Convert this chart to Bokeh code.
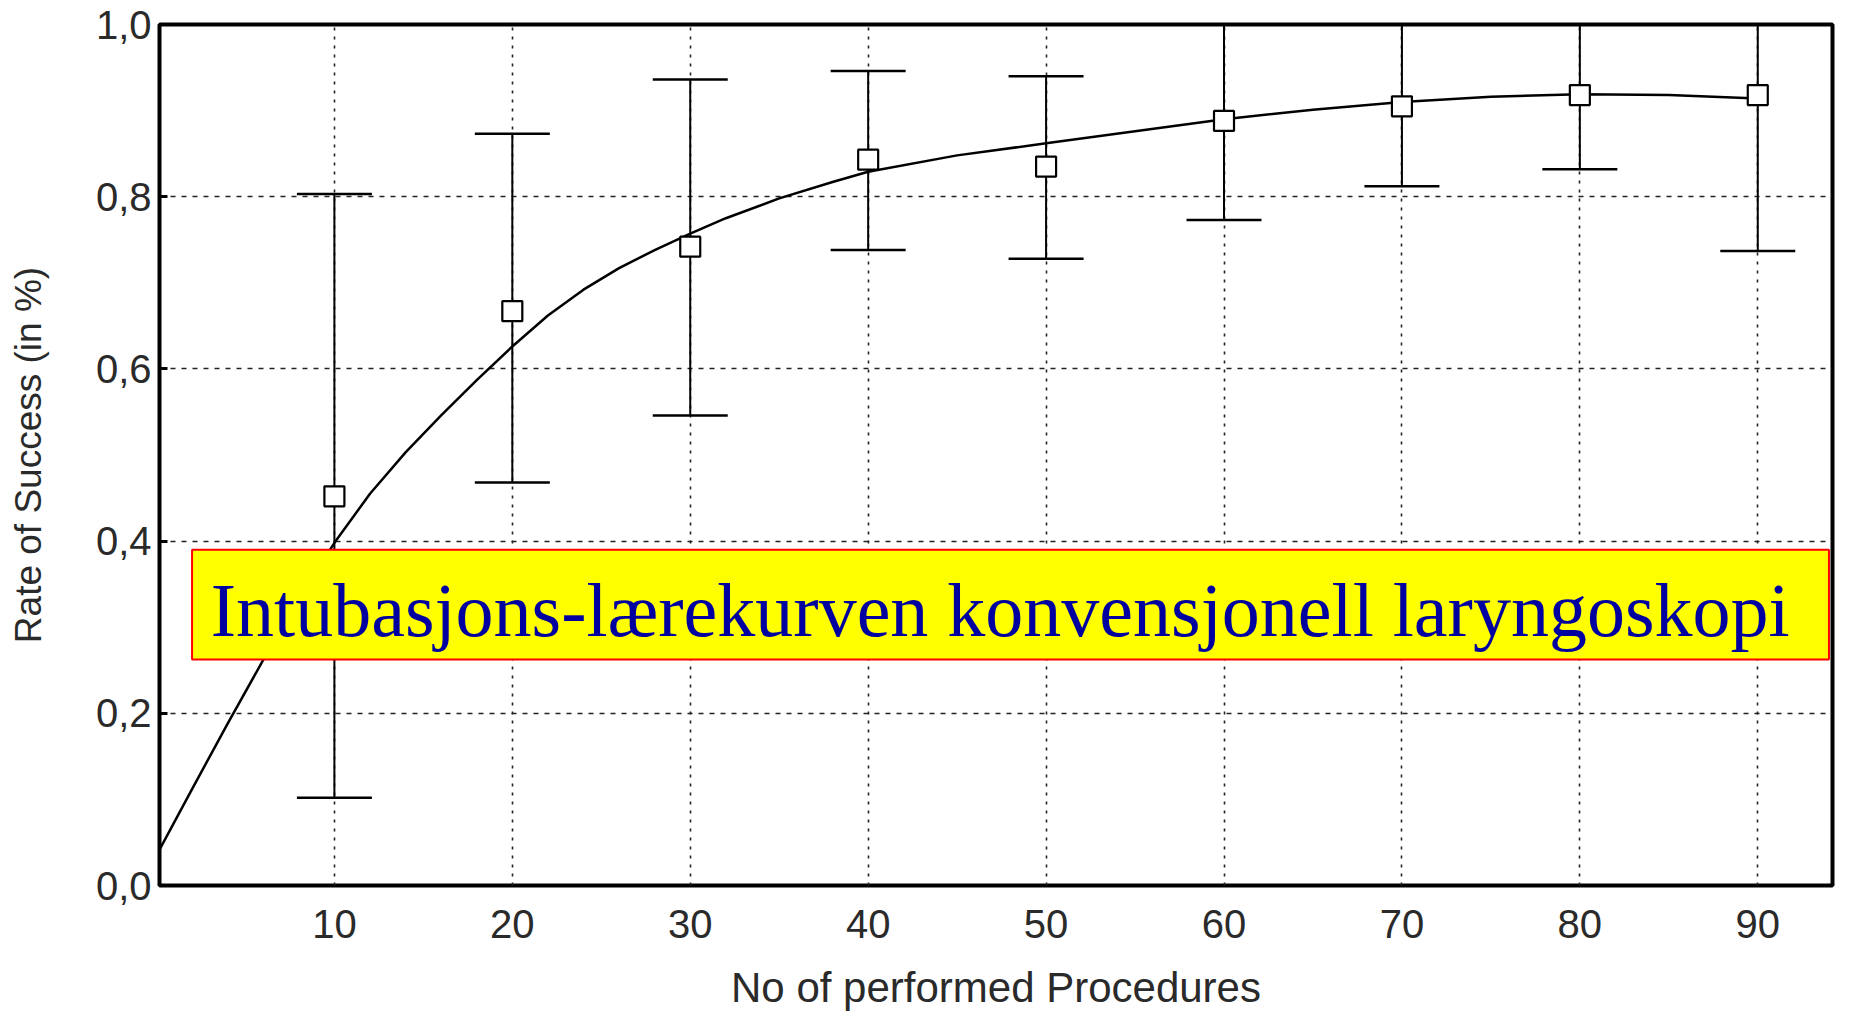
from bokeh.plotting import figure
from bokeh.models import (ColumnDataSource, Whisker, TeeHead, BoxAnnotation, Label,
                          FixedTicker, Range1d)
from bokeh.embed import file_html
from bokeh.resources import INLINE

# ---- data ----
procedures = [10, 20, 30, 40, 50, 60, 70, 80, 90]
success = [0.452, 0.667, 0.742, 0.843, 0.835, 0.888, 0.905, 0.918, 0.918]
upper = [0.803, 0.873, 0.936, 0.946, 0.940, 1.02, 1.01, 1.02, 1.05]
lower = [0.102, 0.468, 0.546, 0.738, 0.728, 0.773, 0.812, 0.832, 0.737]

curve_x = [0, 2, 4, 6, 8, 10, 12, 14, 16, 18, 20, 22, 24, 26, 28, 30, 32, 35, 38, 40,
           45, 50, 55, 60, 65, 70, 75, 80, 85, 90]
curve_y = [0.035, 0.112, 0.188, 0.262, 0.333, 0.398, 0.455, 0.503, 0.546, 0.587, 0.626,
           0.662, 0.692, 0.717, 0.738, 0.757, 0.775, 0.798, 0.817, 0.829,
           0.848, 0.862, 0.876, 0.890, 0.901, 0.910, 0.916, 0.919, 0.918, 0.914]

x_ticks = [10, 20, 30, 40, 50, 60, 70, 80, 90]
y_ticks = [0.0, 0.2, 0.4, 0.6, 0.8, 1.0]
y_tick_labels = ["0,0", "0,2", "0,4", "0,6", "0,8", "1,0"]

title_text = "Intubasjons-lærekurven konvensjonell laryngoskopi"
x_label = "No of performed Procedures"
y_label = "Rate of Success (in %)"

# ---- figure ----
p = figure(width=1835, height=1013, output_backend="svg", toolbar_location=None,
           x_range=Range1d(0.17, 94.2), y_range=Range1d(0, 1.0),
           min_border_left=159, min_border_right=3, min_border_top=24, min_border_bottom=128)
p.background_fill_color = "white"
p.border_fill_color = "white"
p.outline_line_color = "black"
p.outline_line_width = 4

ink = "#2a2a2a"
for ax in (p.xaxis[0], p.yaxis[0]):
    ax.axis_line_color = None
    ax.major_tick_out = 0
    ax.minor_tick_line_color = None
    ax.major_label_text_font = "Liberation Sans"
    ax.major_label_text_color = ink
    ax.major_label_text_font_style = "normal"
    ax.axis_label_text_font = "Liberation Sans"
    ax.axis_label_text_font_style = "normal"
    ax.axis_label_text_color = ink

p.xaxis.ticker = FixedTicker(ticks=x_ticks)
p.yaxis.ticker = FixedTicker(ticks=y_ticks)
p.yaxis.major_label_overrides = {v: s for v, s in zip(y_ticks, y_tick_labels)}

p.xaxis.major_tick_in = 0
p.xaxis.major_label_text_font_size = "40px"
p.xaxis.major_label_standoff = 24
p.xaxis.axis_label = x_label
p.xaxis.axis_label_text_font_size = "42px"
p.xaxis.axis_label_standoff = 23

p.yaxis.major_tick_in = 8
p.yaxis.major_tick_line_color = "black"
p.yaxis.major_tick_line_width = 3
p.yaxis.major_label_text_font_size = "40px"
p.yaxis.major_label_standoff = 8
p.yaxis.axis_label = y_label
p.yaxis.axis_label_text_font_size = "37px"
p.yaxis.axis_label_standoff = 44

p.xgrid.grid_line_color = "#222222"
p.xgrid.grid_line_dash = "3 6"
p.xgrid.grid_line_width = 1.6
p.ygrid.grid_line_color = "#222222"
p.ygrid.grid_line_dash = "5 6"
p.ygrid.grid_line_width = 1.6

# ---- fitted curve ----
p.line(curve_x, curve_y, line_color="black", line_width=2.5)

# ---- error bars ----
src = ColumnDataSource(data=dict(x=procedures, y=success, upper=upper, lower=lower))
w = Whisker(source=src, base="x", upper="upper", lower="lower", line_color="black", line_width=2,
            upper_head=TeeHead(size=75, line_color="black", line_width=2.5),
            lower_head=TeeHead(size=75, line_color="black", line_width=2.5))
p.add_layout(w)

# ---- markers ----
p.scatter("x", "y", source=src, marker="square", size=20, fill_color="white",
          line_color="black", line_width=2.2)

# ---- title box ----
box = BoxAnnotation(left=2.0, right=94.0, bottom=0.2625, top=0.39,
                    fill_color="#FFFF00", fill_alpha=1.0,
                    line_color="#FF0000", line_width=2, line_alpha=1.0)
p.add_layout(box)
lab = Label(x=3.05, y=0.32, text=title_text, text_font="Liberation Serif",
            text_font_size="76px", text_color="#0000A0", text_baseline="alphabetic",
            text_align="left")
p.add_layout(lab)

open("out.html", "w").write(file_html(p, INLINE))
